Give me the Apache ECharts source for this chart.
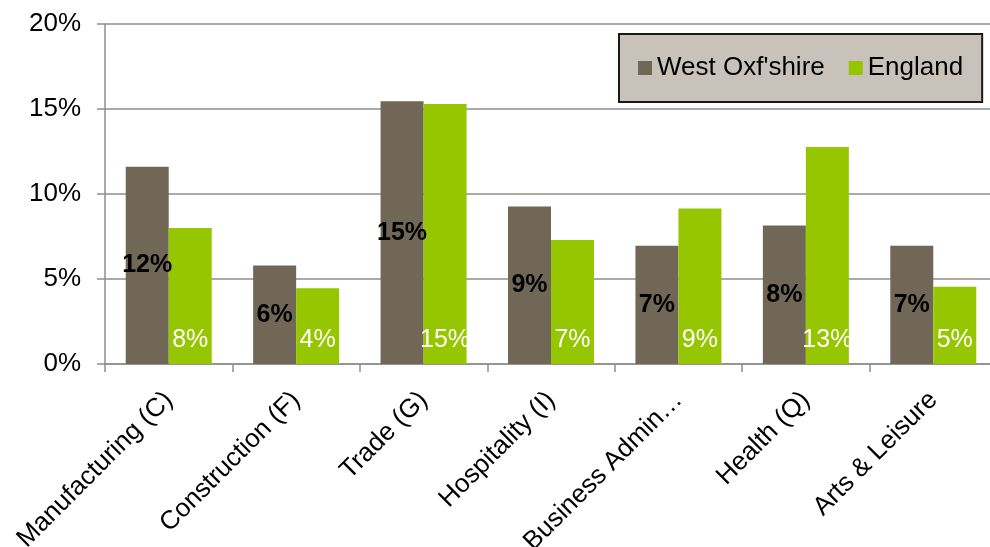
<!DOCTYPE html>
<html>
<head>
<meta charset="utf-8">
<title>Employment by sector</title>
<script src="https://cdn.jsdelivr.net/npm/echarts@6/dist/echarts.min.js"></script>
<style>
  html, body { margin: 0; padding: 0; background: #ffffff; }
  #chart { width: 990px; height: 547px; }
</style>
</head>
<body>
<div id="chart"></div>
<script>
// Share of employment by broad industrial sector (%)
const categories = [
  'Manufacturing (C)',
  'Construction (F)',
  'Trade (G)',
  'Hospitality (I)',
  'Business Admin\u2026',
  'Health (Q)',
  'Arts & Leisure'
];
const westOxfordshire = [11.6, 5.8, 15.45, 9.27, 6.96, 8.14, 6.96];
const england = [8.0, 4.45, 15.29, 7.3, 9.14, 12.76, 4.54];
const seriesNames = ["West Oxf'shire", 'England'];
const yTicks = { min: 0, max: 20, interval: 5 };

const FONT = '"Liberation Sans", Arial, Helvetica, sans-serif';
const GREY = '#8e8e8e';
const pct = p => Math.round(p.value) + '%';

const chart = echarts.init(document.getElementById('chart'), null, { renderer: 'canvas' });

chart.setOption({
  animation: false,
  backgroundColor: '#ffffff',
  textStyle: { fontFamily: FONT },
  grid: {
    left: 105, top: 24, width: 892, height: 340,
    containLabel: false,
    outerBoundsMode: 'none'
  },
  legend: {
    data: seriesNames,
    left: 619,
    top: 34,
    orient: 'horizontal',
    padding: [21, 19, 21, 19],
    itemGap: 24,
    itemWidth: 14,
    itemHeight: 14,
    icon: 'rect',
    backgroundColor: '#c9c2ba',
    borderColor: '#1a1a1a',
    borderWidth: 2,
    textStyle: { fontSize: 26, color: '#000000', fontFamily: FONT, lineHeight: 26 }
  },
  xAxis: {
    type: 'category',
    data: categories,
    axisLine: { lineStyle: { color: GREY, width: 1.5 } },
    axisTick: { show: true, alignWithLabel: false, length: 8, lineStyle: { color: GREY, width: 1.5 } },
    axisLabel: {
      rotate: 45,
      margin: 32,
      interval: 0,
      fontSize: 26,
      color: '#000000',
      fontFamily: FONT
    },
    splitLine: { show: false }
  },
  yAxis: {
    type: 'value',
    min: yTicks.min,
    max: yTicks.max,
    interval: yTicks.interval,
    axisLine: { show: true, lineStyle: { color: GREY, width: 1.5 } },
    axisTick: { show: true, inside: false, length: 8, lineStyle: { color: GREY, width: 1.5 } },
    axisLabel: {
      formatter: '{value}%',
      fontSize: 26,
      margin: 24,
      color: '#000000',
      fontFamily: FONT
    },
    splitLine: { show: true, lineStyle: { color: GREY, width: 1.5 } }
  },
  series: [
    {
      name: seriesNames[0],
      type: 'bar',
      data: westOxfordshire,
      barWidth: 43,
      barGap: '0%',
      itemStyle: { color: '#716757' },
      label: {
        show: true,
        position: 'inside',
        formatter: pct,
        fontSize: 25,
        fontWeight: 'bold',
        color: '#000000',
        fontFamily: FONT
      }
    },
    {
      name: seriesNames[1],
      type: 'bar',
      data: england,
      barWidth: 43,
      barGap: '0%',
      itemStyle: { color: '#95c600' },
      label: {
        show: true,
        position: 'insideBottom',
        distance: 11,
        formatter: pct,
        fontSize: 25,
        color: '#ffffff',
        fontFamily: FONT
      }
    }
  ]
});
</script>
</body>
</html>
